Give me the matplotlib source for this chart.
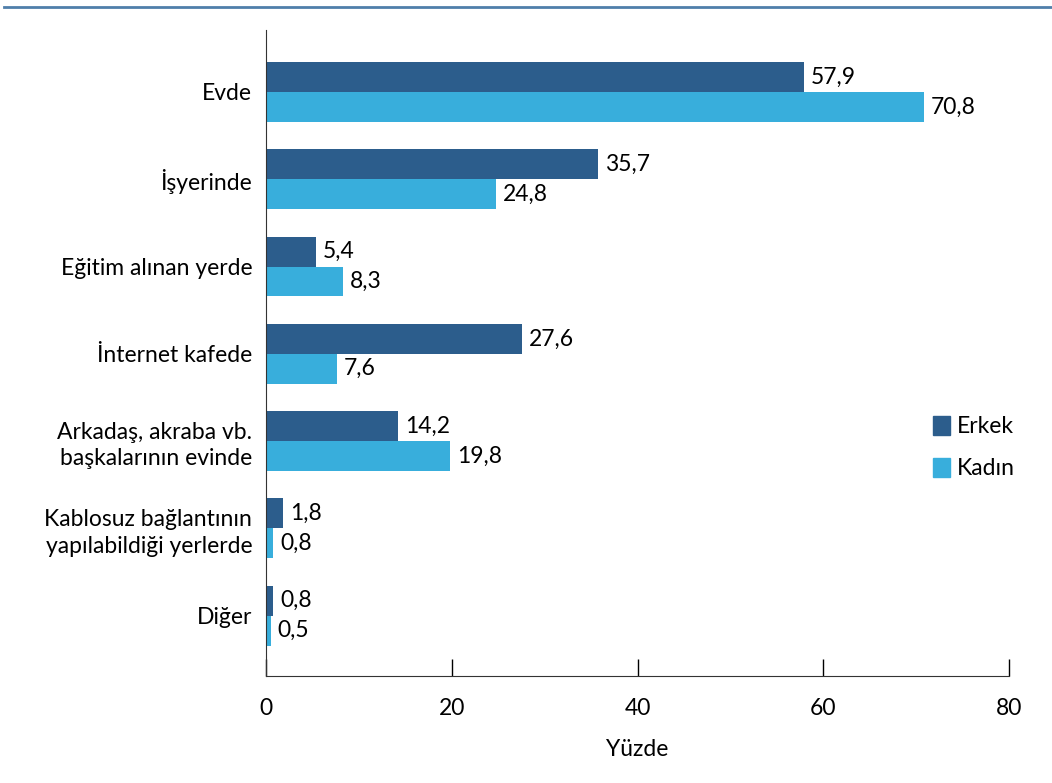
import matplotlib.pyplot as plt
from matplotlib.lines import Line2D
from matplotlib.patches import Patch
import numpy as np

categories = ['Evde', 'İşyerinde', 'Eğitim alınan yerde', 'İnternet kafede',
              'Arkadaş, akraba vb.\nbaşkalarının evinde',
              'Kablosuz bağlantının\nyapılabildiği yerlerde', 'Diğer']
erkek = [57.9, 35.7, 5.4, 27.6, 14.2, 1.8, 0.8]
kadin = [70.8, 24.8, 8.3, 7.6, 19.8, 0.8, 0.5]
xticks = [0, 20, 40, 60, 80]

c_erkek = '#2C5D8C'
c_kadin = '#38AEDC'

plt.rcParams['font.family'] = ['Lato', 'DejaVu Sans']
fs = 16.5

fig = plt.figure(figsize=(10.52, 7.83), dpi=100)
ax = fig.add_axes([0.2529, 0.1367, 0.7062, 0.825])

y = np.arange(len(categories))
h = 0.343
ax.barh(y - h/2, erkek, height=h, color=c_erkek)
ax.barh(y + h/2, kadin, height=h, color=c_kadin)

def fmt(v):
    return ('%.1f' % v).replace('.', ',')

for i in range(len(categories)):
    ax.annotate(fmt(erkek[i]), (erkek[i], y[i] - h/2), xytext=(5, 0),
                textcoords='offset points', va='center', ha='left', fontsize=fs)
    ax.annotate(fmt(kadin[i]), (kadin[i], y[i] + h/2), xytext=(5, 0),
                textcoords='offset points', va='center', ha='left', fontsize=fs)

ax.set_ylim(6.69, -0.71)
ax.set_xlim(0, 80)
ax.set_xticks(xticks)
ax.set_xticklabels([str(t) for t in xticks], fontsize=fs)
ax.set_yticks(y)
ax.set_yticklabels(categories, fontsize=fs, linespacing=1.3)
ax.tick_params(axis='y', length=0, pad=10)
ax.tick_params(axis='x', direction='in', length=12, width=1, pad=16)
for s in ['top', 'right']:
    ax.spines[s].set_visible(False)
ax.spines['left'].set_color('#333333')
ax.spines['bottom'].set_color('#333333')
ax.set_xlabel('Yüzde', fontsize=fs, labelpad=14)

handles = [Patch(color=c_erkek, label='Erkek'), Patch(color=c_kadin, label='Kadın')]
ax.legend(handles=handles, loc='center left', bbox_to_anchor=(0.885, 0.354),
          frameon=False, fontsize=fs, handlelength=0.75, handleheight=0.9,
          handletextpad=0.3, labelspacing=0.9, borderaxespad=0)

fig.add_artist(Line2D([0.004, 1.0], [0.991, 0.991], color='#4F7FAA', lw=2))

fig.savefig('out.png', dpi=100)
